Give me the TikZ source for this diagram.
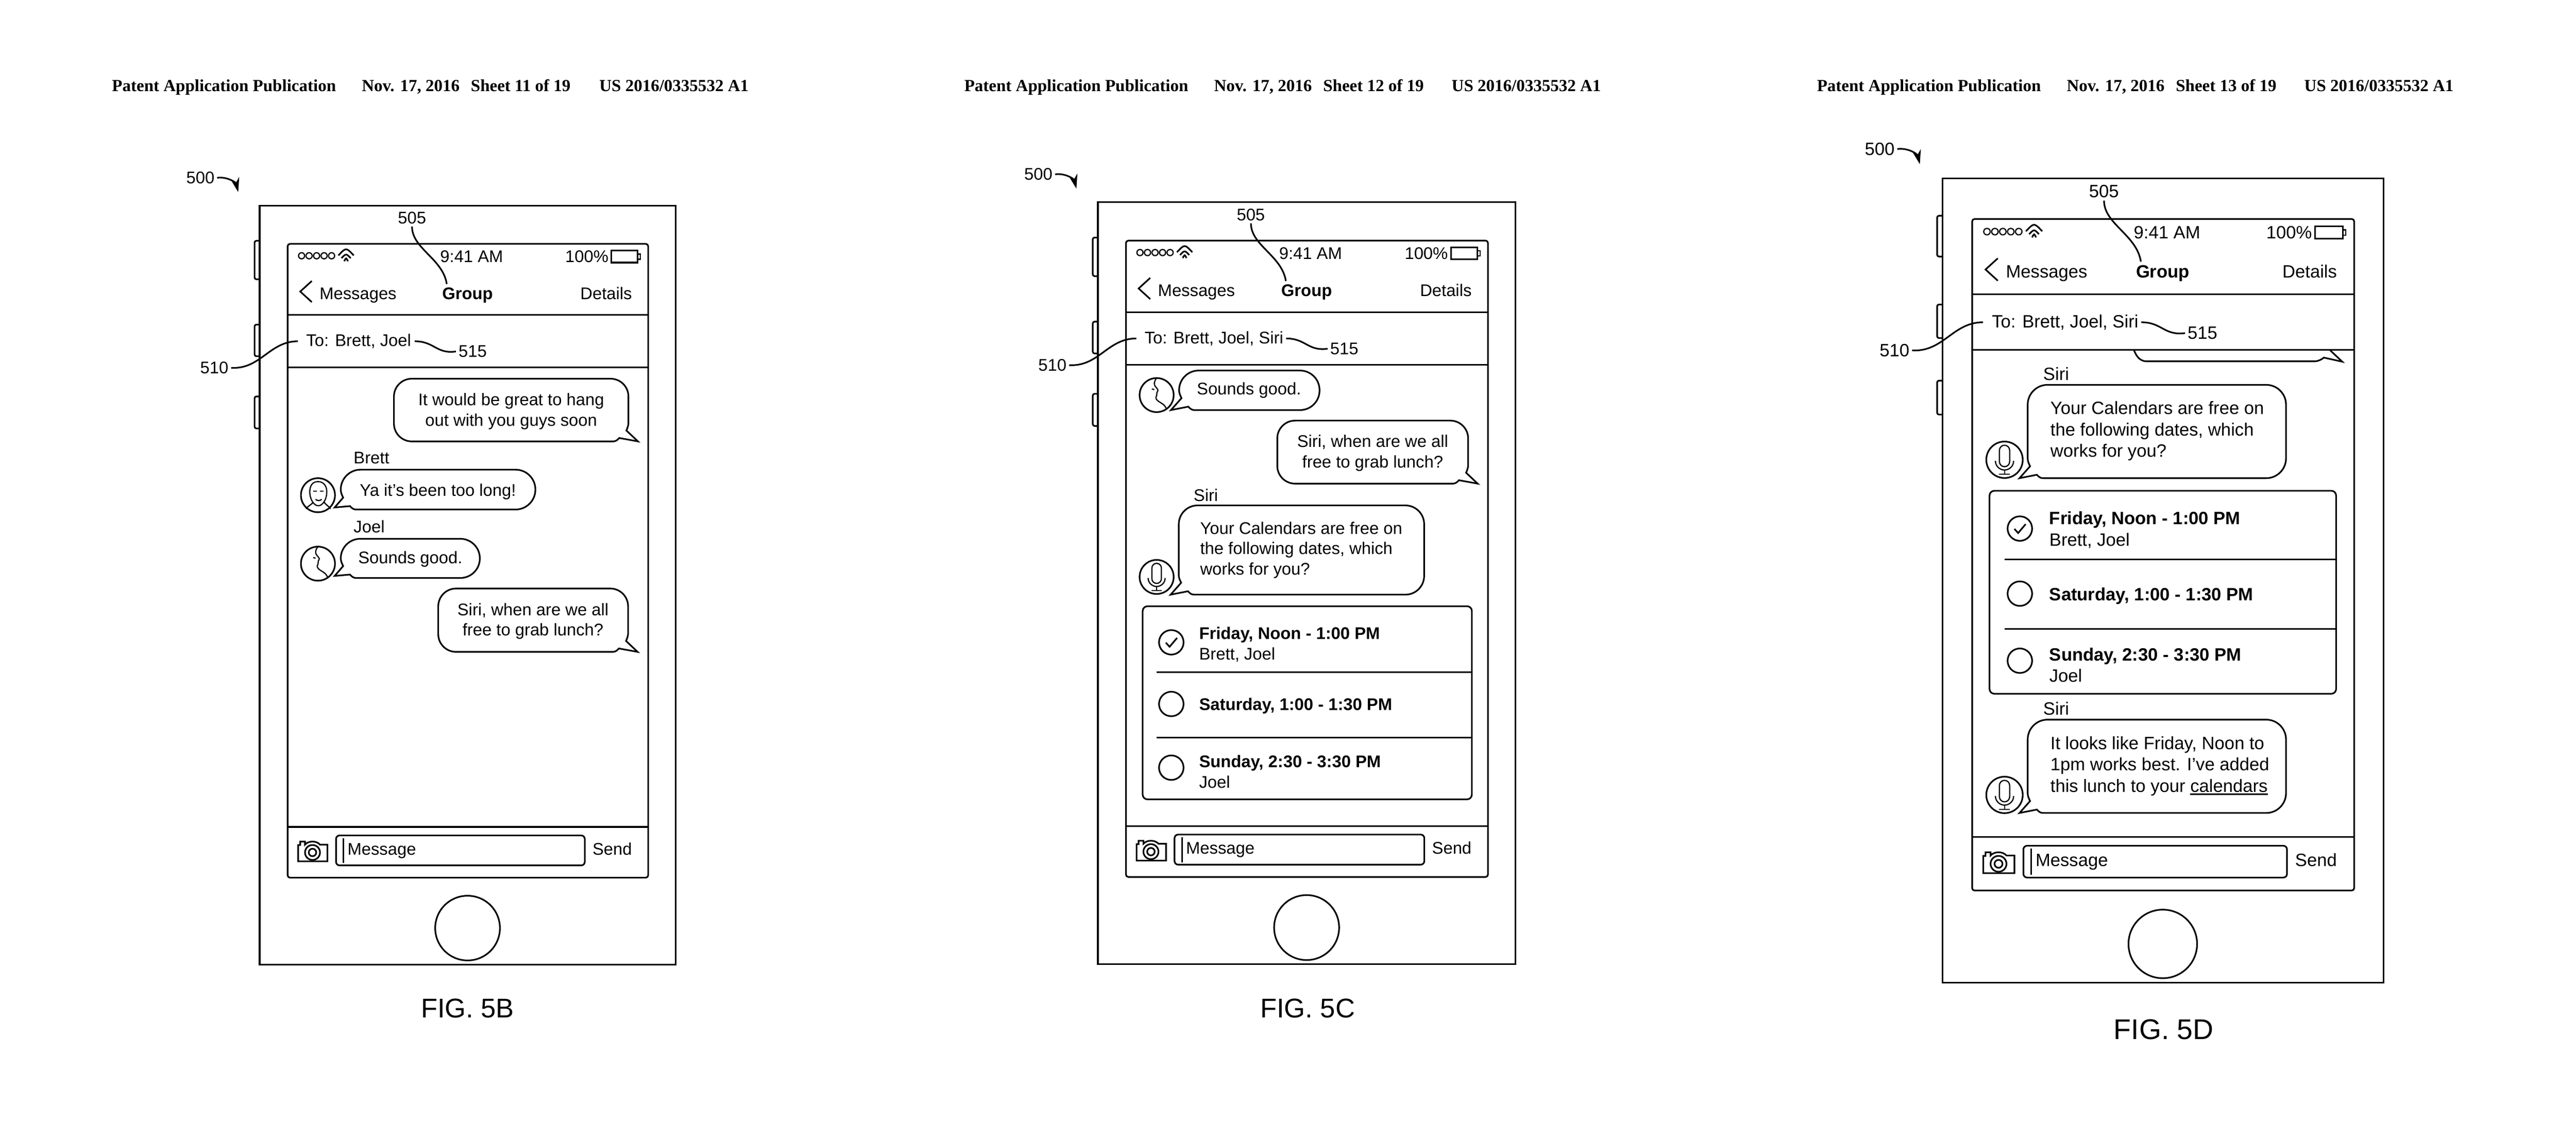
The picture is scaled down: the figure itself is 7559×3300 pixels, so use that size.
\documentclass[tikz,border=0pt]{standalone}
\usepackage{fontspec}
\setmainfont{Liberation Sans}
\newfontfamily\hdrfont{Liberation Serif}
\usetikzlibrary{arrows.meta}
\def\fs{14.1}
\def\ls{17.1}
\tikzset{
  ln/.style={line width=1.35pt},
  fine/.style={line width=1pt},
  txt/.style={inner sep=0pt,anchor=base west,align=left,font=\fontsize{\fs}{\ls}\selectfont},
  ctr/.style={txt,anchor=base,align=center},
  rgt/.style={txt,anchor=base east},
  refno/.style={inner sep=2pt,anchor=center,font=\fontsize{\fs}{\ls}\selectfont},
  figlbl/.style={inner sep=0pt,anchor=base,font=\fontsize{22.6}{26}\selectfont},
  hdr/.style={inner sep=0pt,anchor=base west,font=\hdrfont\bfseries\fontsize{14.2}{16}\selectfont}
}
% bubble with its tail on the left: [lift] left, top, right, bottom, radius
\newcommand{\bubleft}[6][0]{%
  \draw[ln] (#2+7,#5-35) -- (#2-24+#1,#5-#1) -- (#2+27,#5-10)
    .. controls (#2+33,#5-3) and (#2+38,#5) .. (#2+45,#5) -- (#4-#6,#5)
    .. controls (#4-.45*#6,#5) and (#4,#5-.45*#6) .. (#4,#5-#6) -- (#4,#3+#6)
    .. controls (#4,#3+.45*#6) and (#4-.45*#6,#3) .. (#4-#6,#3) -- (#2+#6,#3)
    .. controls (#2+.45*#6,#3) and (#2,#3+.45*#6) .. (#2,#3+#6) -- (#2,#5-#6)
    .. controls (#2,#5-50) and (#2+3,#5-43) .. (#2+7,#5-35) -- cycle;}
% same with the tail on the right
\newcommand{\bubright}[5]{%
  \draw[ln] (#3-6,#4-32) -- (#3+28,#4) -- (#3-27,#4-10)
    .. controls (#3-33,#4-3) and (#3-38,#4) .. (#3-45,#4) -- (#1+#5,#4)
    .. controls (#1+.45*#5,#4) and (#1,#4-.45*#5) .. (#1,#4-#5) -- (#1,#2+#5)
    .. controls (#1,#2+.45*#5) and (#1+.45*#5,#2) .. (#1+#5,#2) -- (#3-#5,#2)
    .. controls (#3-.45*#5,#2) and (#3,#2+.45*#5) .. (#3,#2+#5) -- (#3,#4-#5)
    .. controls (#3,#4-50) and (#3-2,#4-40) .. (#3-6,#4-32) -- cycle;}
\newcommand{\brettface}[2]{%
  \begin{scope}[shift={(#1,#2)}]
    \draw[ln] (0,0) circle[radius=50];
    \draw[fine] (0,-40) .. controls (-18,-40) and (-24,-25) .. (-24,-10)
      .. controls (-24,12) and (-12,31) .. (1,31)
      .. controls (14,31) and (26,12) .. (26,-10)
      .. controls (26,-25) and (18,-40) .. (0,-40);
    \draw[fine] (-35,40) .. controls (-28,30) and (-18,28) .. (-14,20);
    \draw[fine] (37,40) .. controls (30,30) and (22,28) .. (18,20);
    \draw[fine] (-14,-12) -- (-4,-12) (6,-12) -- (16,-12);
    \draw[fine] (-7,12) .. controls (-2,17) and (6,17) .. (11,12);
  \end{scope}}
\newcommand{\joelface}[2]{%
  \begin{scope}[shift={(#1,#2)}]
    \draw[ln] (0,0) circle[radius=50];
    \draw[fine] (0,-50) .. controls (-8,-40) and (-8,-32) .. (-5,-27)
      .. controls (0,-20) and (6,-16) .. (3,-11) .. controls (-2,-6) and (3,-3) .. (0,2)
      .. controls (-8,12) and (8,20) .. (16,25) .. controls (24,30) and (28,38) .. (29,42);
    \draw[fine] (-14,-18) -- (-7,-16);
  \end{scope}}
\newcommand{\micface}[3]{%
  \begin{scope}[shift={(#1,#2)},scale=#3]
    \draw[ln] (0,0) circle[radius=50];
    \draw[fine] (-14,5) -- (-14,-26) arc[start angle=180,end angle=360,radius=14]
      -- (14,5) arc[start angle=0,end angle=180,radius=14];
    \draw[fine] (-25,3) arc[start angle=180,end angle=0,radius=25];
    \draw[fine] (0,28) -- (0,40) (-15,40) -- (15,40);
  \end{scope}}
\newcommand{\ulcal}[1]{\vtop{\hbox{#1}\kern1.1pt\hrule height 1.2pt}}
% everything every phone has, in the coordinates of the first one
\newcommand{\chrome}[3]{%
  \node[refno] (#1n500) at (588,522) {500};
  \coordinate (#1t500) at (699,564);
  \draw[ln,-{Stealth[length=12pt,width=7.5pt]}] (#1n500.east) .. controls (665,518) and (692,535) .. (#1t500);
  \draw[ln] (762,604) rectangle (1983,2832);
  \foreach \ya/\yb in {707/820,953/1046,1164/1258}
    \draw[ln,rounded corners=1.5pt] (762,\ya) -- (747,\ya) -- (747,\yb) -- (762,\yb);
  \draw[ln,rounded corners=2pt] (844,716) rectangle (1902,2577);
  \draw[ln] (844,925) -- (1902,925) (844,1079) -- (1902,1079) (844,2428) -- (1902,2428);
  \foreach \x in {885,907,929,951,973}
    \draw[fine] (\x,751) circle[radius=9];
  \foreach \xa/\xb/\ya/\yc in {993/1038/750/726,1002/1029/758/744,1010/1021/767/756}
    \draw[ln] (\xa,\ya) .. controls ({(\xa+\xb)/2},\yc) .. (\xb,\ya);
  \node[txt] (#1clock) at (1291,770) {9:41 AM};
  \node[txt] (#1charge) at (1658,770) {100\%};
  \draw[ln] (1794,736) rectangle (1871,771);
  \draw[fine] (1871,746) rectangle (1879,761);
  \draw[ln] (915,825) -- (881,856) -- (915,887);
  \node[txt] (#1back) at (937,879) {Messages};
  \node[ctr] (#1group) at (1372,879) {\bfseries Group};
  \node[rgt] (#1details) at (1855,879) {Details};
  \node[txt] (#1to) at (898,1017) {To: #2};
  \node[refno] (#1n505) at (1209,640) {505};
  \coordinate (#1t505) at (1311,834);
  \draw[ln] (#1n505.south) .. controls (1209,730) and (1300,760) .. (#1t505);
  \node[refno] (#1n510) at (629,1080) {510};
  \coordinate (#1t510) at (874,1002);
  \draw[ln] (#1n510.east) .. controls (765,1085) and (790,1002) .. (#1t510);
  \node[refno] (#1n515) at (1387+#3,1032) {515};
  \coordinate (#1t515) at (1217+#3,1002);
  \draw[ln] (#1t515) .. controls (1275+#3,1002) and (1280+#3,1040) .. (#1n515.west);
  % camera, message field, home button
  \draw[ln] (875,2481) -- (881,2481) -- (881,2471) -- (895,2471) -- (895,2480)
    .. controls (905,2468) and (929,2468) .. (939,2480) -- (961,2480) -- (961,2529)
    -- (875,2529) -- cycle;
  \draw[ln] (917,2503) circle[radius=22] (917,2503) circle[radius=11];
  \draw[ln,rounded corners=3pt] (986,2453) rectangle (1716,2541);
  \draw[ln] (1008,2461) -- (1008,2534);
  \node[txt] (#1field) at (1019,2510) {Message};
  \node[txt] (#1send) at (1738,2510) {Send};
  \draw[ln] (1372,2725) circle[radius=95];
}
\newcommand{\radio}[2]{\draw[ln] (#1,#2) circle[radius=36];}
\begin{document}
\begin{tikzpicture}[x=.1mm,y=-.1mm]
\fill[white] (0,0) rectangle (7559,3300);
\useasboundingbox (0,0) rectangle (7559,3300);
\foreach \hx/\sheet in {0/11,2501/12,5003/13} {
  \node[hdr] (pub\sheet) at (328+\hx,268) {Patent Application Publication};
  \node[hdr] (date\sheet) at (1061+\hx,268) {Nov. 17, 2016};
  \node[hdr] (sheet\sheet) at (1381+\hx,268) {Sheet \sheet{} of 19};
  \node[hdr] (num\sheet) at (1758+\hx,268) {US 2016/0335532 A1};
}
% FIG. 5B
\chrome{b}{Brett, Joel}{0}
\bubright{1156}{1112}{1844}{1296}{52}
\node[ctr] (btxt1) at (1500,1251) {It would be great to hang\\out with you guys soon};
\node[txt] (bbrett) at (1037,1361) {Brett};
\brettface{933}{1454}
\bubleft[6]{1000}{1379}{1571}{1496}{58}
\node[ctr] (btxt2) at (1285,1456) {Ya it's been too long!};
\node[txt] (bjoel) at (1037,1564) {Joel};
\joelface{933}{1655}
\bubleft[6]{1000}{1582}{1408}{1697}{57}
\node[ctr] (btxt3) at (1204,1654) {Sounds good.};
\bubright{1286}{1728}{1843}{1914}{52}
\node[ctr] (btxt4) at (1564,1867) {Siri, when are we all\\free to grab lunch?};
\node[figlbl] (bfig) at (1372,2988) {FIG. 5B};
% FIG. 5C
\begin{scope}[shift={(2456.6,-12.4)},scale=1.004]
\chrome{c}{Brett, Joel, Siri}{95}
\end{scope}
\joelface{3394}{1160}
\bubleft{3460}{1088}{3872}{1204}{57}
\node[ctr] (ctxt1) at (3665,1159) {Sounds good.};
\bubright{3748}{1235}{4308}{1420}{52}
\node[ctr] (ctxt2) at (4028,1373) {Siri, when are we all\\free to grab lunch?};
\node[txt] (csiri) at (3502,1471) {Siri};
\micface{3394}{1694}{1}
\bubleft{3459}{1484}{4179}{1746}{55}
\node[txt] (ctxt3) at (3521,1688) {Your Calendars are free on\\the following dates, which\\works for you?};
\draw[ln,rounded corners=4pt] (3353,1780) rectangle (4319,2347);
\draw[ln] (3394,1973) -- (4319,1973) (3394,2166) -- (4319,2166);
\radio{3437}{1886}
\radio{3437}{2067}
\radio{3437}{2254}
\draw[ln] (3421,1887) -- (3432,1899) -- (3454,1873);
\node[txt] (cday1) at (3518,1937) {\bfseries Friday, Noon - 1:00 PM\\Brett, Joel};
\node[txt] (cday2) at (3518,2086) {\bfseries Saturday, 1:00 - 1:30 PM};
\node[txt] (cday3) at (3518,2314) {\bfseries Sunday, 2:30 - 3:30 PM\\Joel};
\node[figlbl] (cfig) at (3837,2988) {FIG. 5C};
% FIG. 5D
\def\fs{14.9}
\def\ls{17.9}
\begin{scope}[shift={(4892.8,-115.6)},scale=1.0595]
\chrome{d}{Brett, Joel, Siri}{95}
\end{scope}
\draw[ln] (6262,1028) .. controls (6270,1050) and (6282,1061) .. (6300,1061) -- (6790,1061)
  .. controls (6802,1061) and (6812,1056) .. (6819,1050) -- (6873,1062) -- (6837,1028);
\node[txt] (dsiri1) at (5995,1116) {Siri};
\micface{5882}{1350}{1.07}
\bubleft{5950}{1130}{6708}{1404}{58}
\node[txt] (dtxt1) at (6016,1342) {Your Calendars are free on\\the following dates, which\\works for you?};
\draw[ln,rounded corners=4pt] (5838,1441) rectangle (6855,2037);
\draw[ln] (5882,1643) -- (6855,1643) (5882,1847) -- (6855,1847);
\radio{5927}{1552}
\radio{5927}{1743}
\radio{5927}{1940}
\draw[ln] (5911,1553) -- (5922,1565) -- (5944,1539);
\node[txt] (dday1) at (6013,1603) {\bfseries Friday, Noon - 1:00 PM\\Brett, Joel};
\node[txt] (dday2) at (6013,1763) {\bfseries Saturday, 1:00 - 1:30 PM};
\node[txt] (dday3) at (6013,2003) {\bfseries Sunday, 2:30 - 3:30 PM\\Joel};
\node[txt] (dsiri2) at (5995,2099) {Siri};
\micface{5882}{2334}{1.07}
\bubleft{5950}{2113}{6708}{2387}{58}
\node[txt] (dtxt2) at (6016,2326) {It looks like Friday, Noon to\\1pm works best. I've added\\this lunch to your \ulcal{calendars}};
\node[figlbl,font=\fontsize{23.8}{28}\selectfont] (dfig) at (6349,3051) {FIG. 5D};
\end{tikzpicture}
\end{document}
